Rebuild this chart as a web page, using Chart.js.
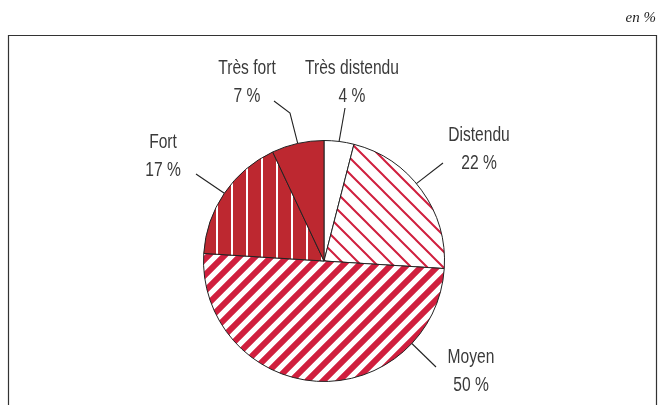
<!DOCTYPE html>
<html>
<head>
<meta charset="utf-8">
<script src="https://cdn.jsdelivr.net/npm/chart.js@4"></script>
<style>
html,body{margin:0;padding:0;background:#fff;}
#wrap{width:658px;height:405px;position:relative;}
</style>
</head>
<body>
<div id="wrap"><canvas id="c" width="658" height="405"></canvas></div>
<script>
// ---- data ----
const categories = ['Très distendu', 'Distendu', 'Moyen', 'Fort', 'Très fort'];
const values = [4, 22, 50, 17, 7];
const valueLabels = ['4 %', '22 %', '50 %', '17 %', '7 %'];
const unitLabel = 'en %';

// ---- styles / label layout (offsets relative to pie centre) ----
const RED = '#d01f3e';
const DARK_RED = '#bd2830';
const labelLayout = [
  {frac: 0.5,  pts: [[21, -153]],             tx: 28,   ty: -187},
  {frac: 0.45, pts: [[119, -98]],             tx: 155,  ty: -120},
  {frac: 0.22, pts: [[112, 106]],             tx: 147,  ty: 102},
  {frac: 0.5,  pts: [[-128, -87]],            tx: -161, ty: -113},
  {frac: 0.5,  pts: [[-34, -148], [-50, -160]], tx: -77, ty: -187}
];

const canvas = document.getElementById('c');
const ctx = canvas.getContext('2d');

function diagPattern(bg, fg, size, lw, dir) {
  const c = document.createElement('canvas');
  c.width = size; c.height = size;
  const g = c.getContext('2d');
  g.fillStyle = bg; g.fillRect(0, 0, size, size);
  g.strokeStyle = fg; g.lineWidth = lw;
  g.beginPath();
  for (const k of [-1, 0, 1]) {
    if (dir === '/') { g.moveTo(k * size - size, 2 * size); g.lineTo(k * size + 2 * size, -size); }
    else { g.moveTo(k * size - size, -size); g.lineTo(k * size + 2 * size, 2 * size); }
  }
  g.stroke();
  return ctx.createPattern(c, 'repeat');
}
function vertPattern(bg, fg, size, x, w) {
  const c = document.createElement('canvas');
  c.width = size; c.height = size;
  const g = c.getContext('2d');
  g.fillStyle = bg; g.fillRect(0, 0, size, size);
  g.fillStyle = fg; g.fillRect(x, 0, w, size);
  return ctx.createPattern(c, 'repeat');
}

const fills = [
  '#ffffff',
  diagPattern('#ffffff', RED, 16, 2, '\\'),
  diagPattern('#ffffff', RED, 16, 6, '/'),
  vertPattern(DARK_RED, '#ffffff', 15, 6, 2),
  DARK_RED
];

const LABEL_FONT = '20px "Liberation Sans", Arial, sans-serif';
const TEXT_SQUEEZE = 0.78;

function squeezedText(g, text, x, y) {
  g.save();
  g.translate(x, y);
  g.scale(TEXT_SQUEEZE, 1);
  g.fillText(text, 0, 0);
  g.restore();
}

const decorPlugin = {
  id: 'decor',
  beforeDraw(chart) {
    const g = chart.ctx;
    g.save();
    g.strokeStyle = '#333';
    g.lineWidth = 1.2;
    g.beginPath();
    g.moveTo(8.5, 410); g.lineTo(8.5, 35.5); g.lineTo(656.5, 35.5); g.lineTo(656.5, 410);
    g.stroke();
    g.fillStyle = '#222';
    g.font = 'italic 15px "Liberation Serif", "DejaVu Serif", serif';
    g.textAlign = 'right';
    g.textBaseline = 'alphabetic';
    g.fillText(unitLabel, 656, 22);
    g.restore();
  },
  afterDatasetsDraw(chart) {
    const g = chart.ctx;
    const meta = chart.getDatasetMeta(0);
    g.save();
    meta.data.forEach((arc, i) => {
      const L = labelLayout[i];
      const p = arc.getProps(['x', 'y', 'startAngle', 'endAngle', 'outerRadius'], true);
      const a = p.startAngle + (p.endAngle - p.startAngle) * L.frac;
      const ax = p.x + Math.cos(a) * p.outerRadius;
      const ay = p.y + Math.sin(a) * p.outerRadius;
      g.strokeStyle = '#222';
      g.lineWidth = 1.1;
      g.beginPath();
      g.moveTo(ax, ay);
      L.pts.forEach(q => g.lineTo(p.x + q[0], p.y + q[1]));
      g.stroke();
      g.fillStyle = '#3a3a3a';
      g.font = LABEL_FONT;
      g.textAlign = 'center';
      g.textBaseline = 'alphabetic';
      squeezedText(g, categories[i], p.x + L.tx, p.y + L.ty);
      squeezedText(g, valueLabels[i], p.x + L.tx, p.y + L.ty + 28);
    });
    g.restore();
  }
};

new Chart(ctx, {
  type: 'pie',
  data: {
    labels: categories,
    datasets: [{
      data: values,
      backgroundColor: fills,
      borderColor: '#222',
      borderWidth: 1
    }]
  },
  options: {
    responsive: false,
    animation: false,
    events: [],
    layout: {padding: {left: 203, right: 213, top: 140, bottom: 23}},
    plugins: {
      legend: {display: false},
      tooltip: {enabled: false},
      title: {display: false}
    }
  },
  plugins: [decorPlugin]
});
</script>
</body>
</html>
